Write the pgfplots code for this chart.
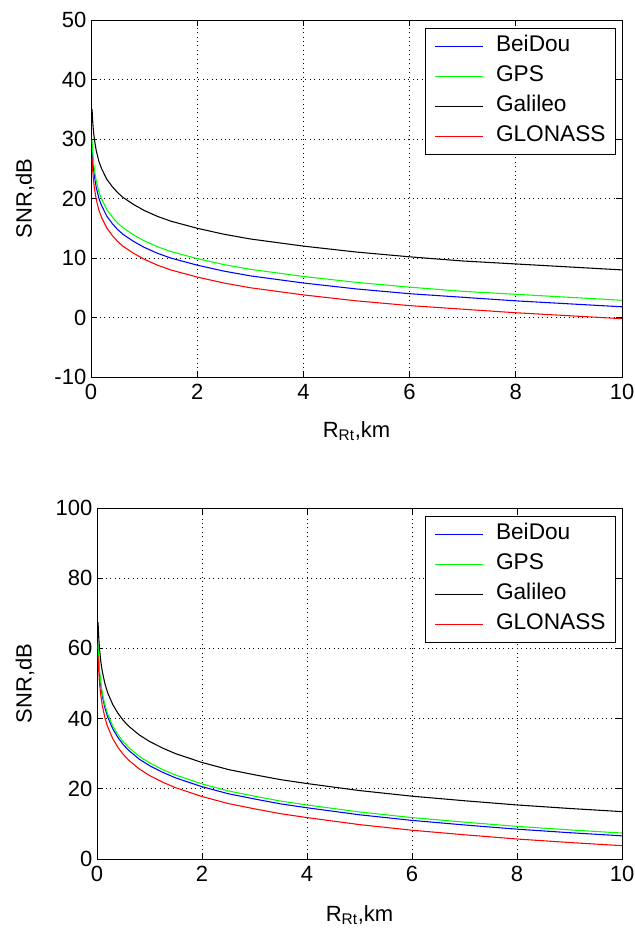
\documentclass[border=0pt]{standalone}
\usepackage{fontspec}
\setmainfont{Liberation Sans}
\usepackage{pgfplots}
\usepackage{pgfplotstable}
\pgfplotsset{compat=1.18}

\definecolor{mblue}{rgb}{0,0,1}
\definecolor{mgreen}{rgb}{0,1,0}
\definecolor{mred}{rgb}{1,0,0}

% x in km; columns: BeiDou, GPS, Galileo, GLONASS (SNR, dB)
\pgfplotstableread{
x     bds   gps   gal   glo
0.02  28.8  29.9  35.0  26.8
0.03  27.0  28.1  33.2  25.0
0.04  25.8  26.9  32.0  23.8
0.05  24.8  25.9  31.0  22.8
0.07  23.4  24.5  29.6  21.4
0.1   21.8  22.9  28.0  19.8
0.15  20.0  21.1  26.2  18.0
0.2   18.8  19.9  25.0  16.8
0.3   17.0  18.1  23.2  15.0
0.4   15.8  16.9  22.0  13.8
0.5   14.8  15.9  21.0  12.8
0.6   14.0  15.1  20.2  12.0
0.8   12.8  13.9  19.0  10.8
1     11.8  12.9  18.0  9.8
1.25  10.8  11.9  17.0  8.8
1.5   10.0  11.1  16.2  8.0
2     8.8   9.9   15.0  6.8
2.5   7.8   8.9   14.0  5.8
3     7.0   8.1   13.2  5.0
3.5   6.4   7.5   12.6  4.4
4     5.8   6.9   12.0  3.8
5     4.8   5.9   11.0  2.8
6     4.0   5.1   10.2  2.0
7     3.4   4.4   9.5   1.4
8     2.8   3.9   9.0   0.8
9     2.3   3.4   8.5   0.3
10    1.8   2.9   8.0   -0.2
}\toptable

\pgfplotstableread{
x     bds   gps   gal   glo
0.02  60.6  61.4  67.5  57.8
0.03  57.1  57.9  64.0  54.3
0.04  54.6  55.4  61.5  51.8
0.05  52.6  53.4  59.5  49.8
0.07  49.7  50.5  56.6  46.9
0.1   46.6  47.4  53.5  43.8
0.15  43.1  43.9  50.0  40.3
0.2   40.6  41.4  47.5  37.8
0.3   37.1  37.9  44.0  34.3
0.4   34.6  35.4  41.5  31.8
0.5   32.6  33.4  39.5  29.8
0.6   31.0  31.8  37.9  28.2
0.8   28.5  29.3  35.4  25.7
1     26.6  27.4  33.5  23.8
1.25  24.7  25.5  31.6  21.9
1.5   23.1  23.9  30.0  20.3
2     20.6  21.4  27.5  17.8
2.5   18.6  19.4  25.5  15.8
3     17.1  17.9  24.0  14.3
3.5   15.7  16.5  22.6  12.9
4     14.6  15.4  21.5  11.8
5     12.6  13.4  19.5  9.8
6     11.0  11.8  17.9  8.2
7     9.7   10.5  16.6  6.9
8     8.5   9.3   15.4  5.7
9     7.5   8.3   14.4  4.7
10    6.6   7.4   13.5  3.8
}\bottable

\pgfplotsset{
  mstyle/.style={
    scale only axis,
    xmin=0, xmax=10,
    xtick={0,2,...,10},
    tick align=inside,
    major tick length=4.5pt,
    tick style={black, line width=0.6pt},
    axis line style={black, line width=0.7pt},
    grid=major,
    major grid style={black, line width=0.6pt, dash pattern=on 0.75pt off 2.6pt},
    /pgf/number format/assume math mode=true,
    tick label style={font=\fontsize{16.5}{19}\selectfont},
    xticklabel style={yshift=-2pt},
    label style={font=\fontsize{16.5}{19}\selectfont},
    xlabel={R\textsubscript{Rt},km},
    ylabel={SNR,dB},
    xlabel style={at={(axis description cs:0.5,0)}, anchor=base, yshift=-45pt},
    legend cell align=left,
    legend style={
      at={(1,1)}, anchor=north east, xshift=-4.5pt, yshift=-6pt,
      draw=black, line width=0.6pt,
      font=\fontsize{17}{19}\selectfont,
      inner xsep=7.5pt, inner ysep=7pt,
      row sep=9.5pt,
      nodes={inner sep=0pt, text height=10pt, text depth=3pt},
      /tikz/every odd column/.append style={column sep=9pt},
    },
    legend image code/.code={\draw[#1] (0pt,0pt) -- (36pt,0pt);},
    every axis plot/.append style={line width=0.8pt, no marks},
  }
}

\begin{document}
\begin{tikzpicture}
\useasboundingbox (0,0) rectangle (476.25pt,-696.75pt);

\begin{axis}[mstyle,
  at={(68.25pt,-282.75pt)}, anchor=south west,
  width=398.25pt, height=267.75pt,
  ymin=-10, ymax=50, ytick={-10,0,...,50},
  ylabel style={at={(axis description cs:0,0.5)}, anchor=center, yshift=49.5pt},
]
\addplot[mblue] table[x=x,y=bds] {\toptable};
\addlegendentry{BeiDou}
\addplot[mgreen] table[x=x,y=gps] {\toptable};
\addlegendentry{GPS}
\addplot[black] table[x=x,y=gal] {\toptable};
\addlegendentry{Galileo}
\addplot[mred] table[x=x,y=glo] {\toptable};
\addlegendentry{GLONASS}
\end{axis}

\begin{axis}[mstyle,
  at={(72.75pt,-644.25pt)}, anchor=south west,
  width=393.75pt, height=263.25pt,
  ymin=0, ymax=100, ytick={0,20,...,100},
  ylabel style={at={(axis description cs:0,0.5)}, anchor=center, yshift=54pt},
  xlabel style={yshift=-1.5pt},
]
\addplot[mblue] table[x=x,y=bds] {\bottable};
\addlegendentry{BeiDou}
\addplot[mgreen] table[x=x,y=gps] {\bottable};
\addlegendentry{GPS}
\addplot[black] table[x=x,y=gal] {\bottable};
\addlegendentry{Galileo}
\addplot[mred] table[x=x,y=glo] {\bottable};
\addlegendentry{GLONASS}
\end{axis}
\end{tikzpicture}
\end{document}
